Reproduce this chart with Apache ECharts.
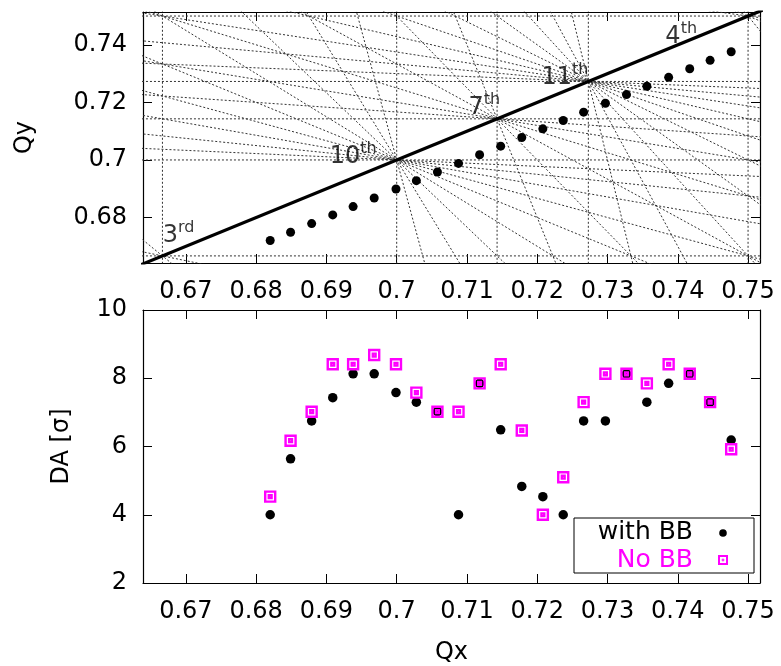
<!DOCTYPE html>
<html><head><meta charset="utf-8">
<script src="https://cdn.jsdelivr.net/npm/echarts@6/dist/echarts.min.js"></script>
<style>html,body{margin:0;padding:0;background:#fff}#c{width:781px;height:666px}</style>
</head><body><div id="c"></div>
<script>
// ---- data ----
const qx = [0.6820,0.6849,0.6879,0.6909,0.6938,0.6968,0.6999,0.7028,0.7058,0.7088,0.7118,0.7148,0.7178,0.7208,0.7237,0.7266,0.7297,0.7327,0.7356,0.7387,0.7417,0.7446,0.7476];
const qy = [0.6720,0.6749,0.6779,0.6809,0.6838,0.6868,0.6899,0.6928,0.6958,0.6988,0.7018,0.7048,0.7078,0.7108,0.7137,0.7166,0.7197,0.7227,0.7256,0.7287,0.7317,0.7346,0.7376];
const daWithBB = [4.00,5.64,6.75,7.43,8.13,8.13,7.58,7.30,7.02,4.00,7.85,6.49,4.83,4.53,4.00,6.75,6.75,8.13,7.30,7.85,8.13,7.30,6.19];
const daNoBB   = [4.53,6.17,7.02,8.41,8.41,8.68,8.41,7.58,7.02,7.02,7.85,8.41,6.47,4.00,5.10,7.30,8.13,8.13,7.85,8.41,8.13,7.30,5.92];
const qxTicks = [0.67,0.68,0.69,0.70,0.71,0.72,0.73,0.74,0.75];
const qyTicks = [0.68,0.70,0.72,0.74];
const daTicks = [2,4,6,8,10];
const seriesNames = ['with BB','No BB'];
// resonance nodes on the diagonal and their order labels
const nodeTunes = [2/3, 0.7, 5/7, 8/11, 0.75];
const nodeOrders = ['3','10','7','11','4'];
const nodeSuffix = ['rd','th','th','th','th'];
// resonance lines  m*Qx + n*Qy = p
const resonances = [
  [3,0,2],[2,1,2],[1,2,2],[0,3,2],
  [10,0,7],[9,1,7],[8,2,7],[7,3,7],[6,4,7],[5,5,7],[4,6,7],[3,7,7],[2,8,7],[1,9,7],[0,10,7],
  [7,0,5],[6,1,5],[5,2,5],[4,3,5],[3,4,5],[2,5,5],[1,6,5],[0,7,5],
  [11,0,8],[10,1,8],[9,2,8],[8,3,8],[7,4,8],[6,5,8],[5,6,8],[4,7,8],[3,8,8],[2,9,8],[1,10,8],[0,11,8],
  [4,0,3],[3,1,3],[2,2,3],[1,3,3],[0,4,3]
];
const coupling = [1,-1,0]; // Qx = Qy

// ---- build ----
const FONT = 'DejaVu Sans';
const LO = 0.60, HI = 0.80;
function lineEnds(r){
  const m=r[0], n=r[1], p=r[2];
  if (n === 0) { const x=p/m; return [[x,LO],[x,HI]]; }
  return [[LO,(p-m*LO)/n],[HI,(p-m*HI)/n]];
}
const fmt = v => String(+(+v).toFixed(2));
const labelStyle = {fontSize:24, fontFamily:FONT, color:'#000'};
const axLine = {show:true, lineStyle:{color:'#000', width:1.2}};
const tick = (vals) => ({show:true, inside:true, length:9, lineStyle:{color:'#000', width:1}, customValues: vals});

const XMIN=0.6639, XMAX=0.7517, YMIN=0.6642, YMAX=0.7514;

const series = [];
resonances.forEach(r => series.push({
  type:'line', xAxisIndex:0, yAxisIndex:0, data: lineEnds(r), symbol:'none', silent:true, clip:true,
  lineStyle:{color:'#333', width:1, type:[2,2]}, z:1
}));
series.push({type:'line', xAxisIndex:0, yAxisIndex:0, data: lineEnds(coupling), symbol:'none', silent:true, clip:true,
  lineStyle:{color:'#000', width:3.2}, z:2});
series.push({type:'scatter', xAxisIndex:0, yAxisIndex:0, data: qx.map((x,i)=>[x,qy[i]]),
  symbol:'circle', symbolSize:9, itemStyle:{color:'#000', opacity:1}, z:3, silent:true});
const labelOffsets = [[32,-20],[-20,-3],[3,-11],[0,-4],[-51,21]];
series.push({type:'scatter', xAxisIndex:0, yAxisIndex:0, symbolSize:0, silent:true, z:4,
  data: nodeTunes.map((t,i)=>({value:[t,t], label:{offset:labelOffsets[i]}, name:nodeOrders[i]})),
  label:{show:true, position:[0,0], align:'right', verticalAlign:'middle',
    formatter: p => '{b|'+nodeOrders[p.dataIndex]+'}{s|'+nodeSuffix[p.dataIndex]+'}',
    rich:{ b:{fontSize:24, fontFamily:FONT, color:'#000', lineHeight:32},
           s:{fontSize:16, fontFamily:FONT, color:'#000', lineHeight:16, verticalAlign:'top'} } }
});
series.push({type:'scatter', name:seriesNames[0], xAxisIndex:2, yAxisIndex:2, data: qx.map((x,i)=>[x,daWithBB[i]]),
  symbol:'circle', symbolSize:9.5, itemStyle:{color:'#000', opacity:1}, z:3, silent:true});
series.push({type:'scatter', name:seriesNames[1], xAxisIndex:2, yAxisIndex:2, data: qx.map((x,i)=>[x,daNoBB[i]]),
  symbol:'path://M0 0H10V10H0Z M3.6 3.6H6.4V6.4H3.6Z', symbolSize:10,
  itemStyle:{color:'rgba(0,0,0,0)', borderColor:'#ff00ff', borderWidth:2.4, opacity:1}, z:4, silent:true});

const option = {
  animation:false,
  backgroundColor:'#fff',
  grid:[
    {left:143, top:12, width:617, height:251},
    {left:143, top:310, width:617, height:273}
  ],
  xAxis:[
    {type:'value', gridIndex:0, position:'bottom', min:XMIN, max:XMAX, axisLine:axLine, axisTick:tick(qxTicks),
     axisLabel:Object.assign({margin:17, customValues:qxTicks, formatter:fmt}, labelStyle), splitLine:{show:false}},
    {type:'value', gridIndex:0, position:'top', min:XMIN, max:XMAX, axisLine:axLine, axisTick:tick(qxTicks),
     axisLabel:{show:false}, splitLine:{show:false}},
    {type:'value', gridIndex:1, position:'bottom', min:XMIN, max:XMAX, axisLine:axLine, axisTick:tick(qxTicks),
     axisLabel:Object.assign({margin:17, customValues:qxTicks, formatter:fmt}, labelStyle), splitLine:{show:false},
     name:'Qx', nameLocation:'middle', nameGap:58, nameTextStyle:labelStyle},
    {type:'value', gridIndex:1, position:'top', min:XMIN, max:XMAX, axisLine:axLine, axisTick:tick(qxTicks),
     axisLabel:{show:false}, splitLine:{show:false}}
  ],
  yAxis:[
    {type:'value', gridIndex:0, position:'left', min:YMIN, max:YMAX, axisLine:axLine, axisTick:tick(qyTicks),
     axisLabel:Object.assign({margin:16, customValues:qyTicks, formatter:fmt}, labelStyle), splitLine:{show:false},
     name:'Qy', nameLocation:'middle', nameGap:106, nameTextStyle:labelStyle},
    {type:'value', gridIndex:0, position:'right', min:YMIN, max:YMAX, axisLine:axLine, axisTick:tick(qyTicks),
     axisLabel:{show:false}, splitLine:{show:false}},
    {type:'value', gridIndex:1, position:'left', min:2, max:10, interval:2, axisLine:axLine, axisTick:tick(daTicks),
     axisLabel:Object.assign({margin:16, customValues:daTicks}, labelStyle), splitLine:{show:false},
     name:'DA [σ]', nameLocation:'middle', nameGap:69, nameTextStyle:labelStyle},
    {type:'value', gridIndex:1, position:'right', min:2, max:10, interval:2, axisLine:axLine, axisTick:tick(daTicks),
     axisLabel:{show:false}, splitLine:{show:false}}
  ],
  graphic:[
    {type:'rect', shape:{x:574, y:518, width:180, height:55}, style:{fill:'rgba(0,0,0,0)', stroke:'#000', lineWidth:1}, z:10},
    {type:'text', x:693, y:532, style:{text:seriesNames[0], font:'25px "DejaVu Sans"', fill:'#000', align:'right', verticalAlign:'middle'}, z:10},
    {type:'text', x:693, y:560, style:{text:seriesNames[1], font:'25px "DejaVu Sans"', fill:'#ff00ff', align:'right', verticalAlign:'middle'}, z:10},
    {type:'circle', shape:{cx:723, cy:533, r:3.8}, style:{fill:'#000'}, z:10},
    {type:'rect', shape:{x:719, y:556, width:8, height:8}, style:{fill:'rgba(0,0,0,0)', stroke:'#ff00ff', lineWidth:2}, z:10},
    {type:'rect', shape:{x:722.2, y:559.2, width:1.6, height:1.6}, style:{fill:'rgba(0,0,0,0)', stroke:'#ff00ff', lineWidth:1}, z:10}
  ],
  series: series
};
const chart = echarts.init(document.getElementById('c'), null, {renderer:'canvas'});
chart.setOption(option);
</script>
</body></html>
